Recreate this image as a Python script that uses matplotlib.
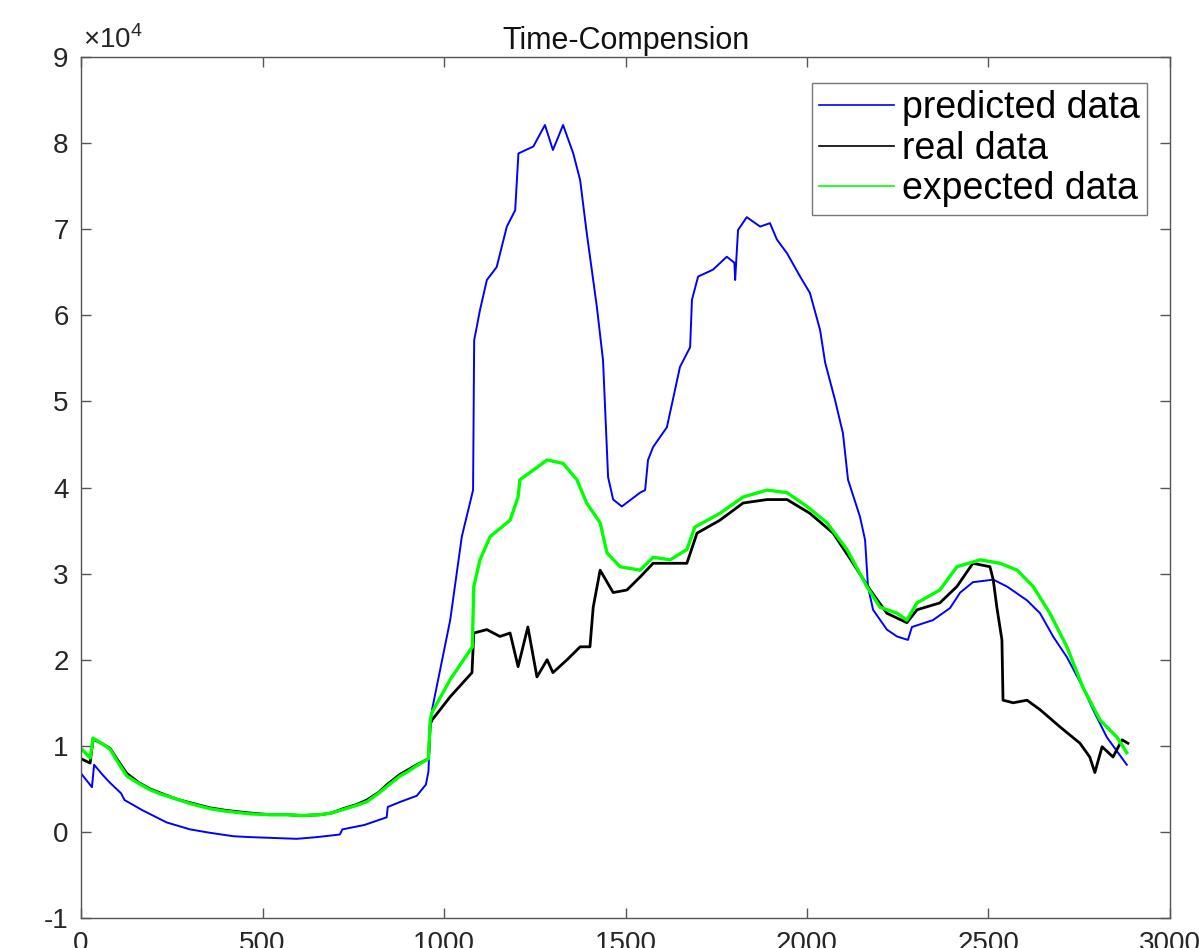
import numpy as np
import matplotlib
matplotlib.use('Agg')
import matplotlib.pyplot as plt
from matplotlib.ticker import FuncFormatter

# sample index of each series and its value (in units of 1e4)
pred_x = [0, 30, 36, 60, 80, 110, 120, 170, 236, 300, 355, 420, 465, 530, 594, 650,
          713, 720, 780, 842, 845, 880, 925, 950, 957, 962, 967,
          1017, 1049, 1080, 1083, 1099, 1118, 1145, 1173, 1196, 1205, 1246, 1278, 1300,
          1328, 1356, 1375, 1393, 1421, 1438, 1452, 1466, 1490, 1540, 1554, 1562, 1576,
          1614, 1650, 1678, 1683, 1700, 1741, 1779, 1800, 1802, 1810, 1834, 1871, 1898,
          1917, 1945, 1981, 2008, 2036, 2050, 2077, 2099, 2113, 2146, 2160, 2168, 2182,
          2220, 2248, 2278, 2289, 2347, 2394, 2422, 2457, 2513, 2551, 2606, 2642, 2678,
          2716, 2760, 2788, 2826, 2881]
pred_y = [0.68, 0.52, 0.78, 0.66, 0.57, 0.45, 0.37, 0.25, 0.11, 0.03, -0.01, -0.05,
          -0.06, -0.07, -0.08, -0.06, -0.03, 0.03, 0.08, 0.17, 0.29, 0.35, 0.42, 0.55,
          0.70, 1.20, 1.42, 2.46, 3.43, 3.97, 5.71, 6.06, 6.41, 6.56, 7.03, 7.22,
          7.88, 7.96, 8.21, 7.92, 8.21, 7.88, 7.57, 6.96, 6.10, 5.48, 4.12, 3.86, 3.78,
          3.94, 3.97, 4.32, 4.47, 4.70, 5.40, 5.63, 6.18, 6.45, 6.53, 6.68, 6.61, 6.41,
          6.99, 7.14, 7.03, 7.07, 6.88, 6.72, 6.45, 6.26, 5.83, 5.45, 5.02, 4.63, 4.09,
          3.66, 3.39, 2.85, 2.58, 2.35, 2.27, 2.23, 2.38, 2.46, 2.60, 2.78, 2.90, 2.93,
          2.85, 2.69, 2.54, 2.27, 2.03, 1.68, 1.42, 1.10, 0.78]

real_x = [0, 25, 33, 60, 80, 100, 126, 160, 190, 220, 264, 300, 355, 400, 465, 520,
          567, 610, 658, 690, 722, 760, 787, 820, 843, 879, 900, 925,
          957, 962, 967, 1017, 1077, 1082, 1118, 1154, 1182, 1204, 1231, 1256, 1284,
          1300, 1339, 1375, 1402, 1411, 1430, 1466, 1504, 1540, 1576, 1669, 1697, 1760,
          1824, 1890, 1945, 2008, 2072, 2127, 2174, 2220, 2275, 2303, 2366, 2413, 2457,
          2504, 2513, 2523, 2537, 2540, 2568, 2606, 2642, 2697, 2752, 2779, 2793, 2813,
          2843, 2868, 2884]
real_y = [0.85, 0.80, 1.08, 1.02, 0.97, 0.84, 0.68, 0.57, 0.50, 0.45, 0.38, 0.34,
          0.28, 0.25, 0.22, 0.20, 0.20, 0.19, 0.20, 0.22, 0.27, 0.32, 0.37, 0.46,
          0.55, 0.67, 0.72, 0.78, 0.85, 1.25, 1.30, 1.57, 1.85, 2.31, 2.35, 2.27, 2.31,
          1.92, 2.38, 1.80, 2.00, 1.85, 2.00, 2.15, 2.15, 2.61, 3.04, 2.78, 2.81, 2.96,
          3.12, 3.12, 3.47, 3.62, 3.82, 3.86, 3.86, 3.70, 3.47, 3.12, 2.81, 2.54, 2.43,
          2.58, 2.66, 2.85, 3.12, 3.08, 2.93, 2.61, 2.23, 1.53, 1.50, 1.53, 1.42, 1.22,
          1.03, 0.87, 0.69, 0.99, 0.87, 1.07, 1.03]

exp_x = [0, 25, 33, 60, 80, 100, 126, 160, 190, 220, 264, 300, 355, 400, 465, 520,
         567, 610, 658, 690, 722, 760, 787, 820, 843, 879, 900, 925,
         957, 962, 967, 1017, 1078, 1082, 1099, 1127, 1182, 1204, 1209, 1245, 1284, 1328,
         1366, 1393, 1430, 1449, 1485, 1540, 1576, 1623, 1669, 1691, 1760, 1824, 1890,
         1945, 2000, 2055, 2110, 2165, 2201, 2248, 2275, 2303, 2366, 2413, 2477, 2532,
         2579, 2623, 2669, 2716, 2760, 2807, 2854, 2881]
exp_y = [0.97, 0.86, 1.09, 1.02, 0.96, 0.82, 0.65, 0.56, 0.49, 0.44, 0.38, 0.33,
         0.27, 0.24, 0.21, 0.20, 0.20, 0.19, 0.20, 0.22, 0.26, 0.31, 0.35, 0.45,
         0.53, 0.65, 0.70, 0.77, 0.85, 1.30, 1.39, 1.77, 2.15, 2.85, 3.16, 3.43, 3.62,
         3.89, 4.09, 4.20, 4.32, 4.28, 4.09, 3.82, 3.59, 3.24, 3.08, 3.04, 3.19, 3.16,
         3.28, 3.54, 3.70, 3.89, 3.97, 3.94, 3.78, 3.59, 3.28, 2.85, 2.61, 2.54, 2.46,
         2.66, 2.81, 3.08, 3.16, 3.12, 3.04, 2.85, 2.54, 2.15, 1.68, 1.30, 1.10, 0.92]

labels = ['predicted data', 'real data', 'expected data']

plt.rcParams['font.family'] = ['Liberation Sans', 'DejaVu Sans']
plt.rcParams['axes.unicode_minus'] = False
plt.rcParams['mathtext.fontset'] = 'custom'
plt.rcParams['mathtext.rm'] = 'Liberation Sans'

fig = plt.figure(figsize=(11.99, 9.48), dpi=100)
ax = fig.add_axes([0.0676, 0.0316, 0.9082, 0.9083])

ax.plot(pred_x, np.array(pred_y) * 1e4, color='#0000ff', lw=1.4, label=labels[0])
ax.plot(real_x, np.array(real_y) * 1e4, color='#000000', lw=2.0, label=labels[1])
ax.plot(exp_x, np.array(exp_y) * 1e4, color='#00ff00', lw=2.4, label=labels[2])

ax.set_xlim(0, 3000)
ax.set_ylim(-1e4, 9e4)
ax.set_xticks(np.arange(0, 3001, 500))
ax.set_yticks(np.arange(-1e4, 9.1e4, 1e4))
ax.yaxis.set_major_formatter(FuncFormatter(lambda v, pos: f'{v / 1e4:g}'))

grey = '#262626'
for s in ax.spines.values():
    s.set_color('#555555')
    s.set_linewidth(1.0)
ax.tick_params(direction='in', length=7, width=1, colors='#555555',
               labelcolor=grey, labelsize=20, top=True, right=True, pad=9)

# exponent label above the y axis
ax.text(0.002, 1.004, r'$\times10^{4}$', transform=ax.transAxes,
        ha='left', va='bottom', fontsize=20, color=grey)

ax.set_title('Time-Compension', fontsize=22, color='#111111', pad=6)

leg = ax.legend(loc='upper right', bbox_to_anchor=(0.979, 0.970), fontsize=27,
                frameon=True, fancybox=False, edgecolor='#555555',
                handlelength=2.0, handletextpad=0.2, labelspacing=0.12,
                borderpad=0.2, borderaxespad=0)
leg.get_frame().set_linewidth(1.0)
for h in leg.get_lines():
    h.set_linewidth(1.2)

fig.savefig('out.png', dpi=100)
